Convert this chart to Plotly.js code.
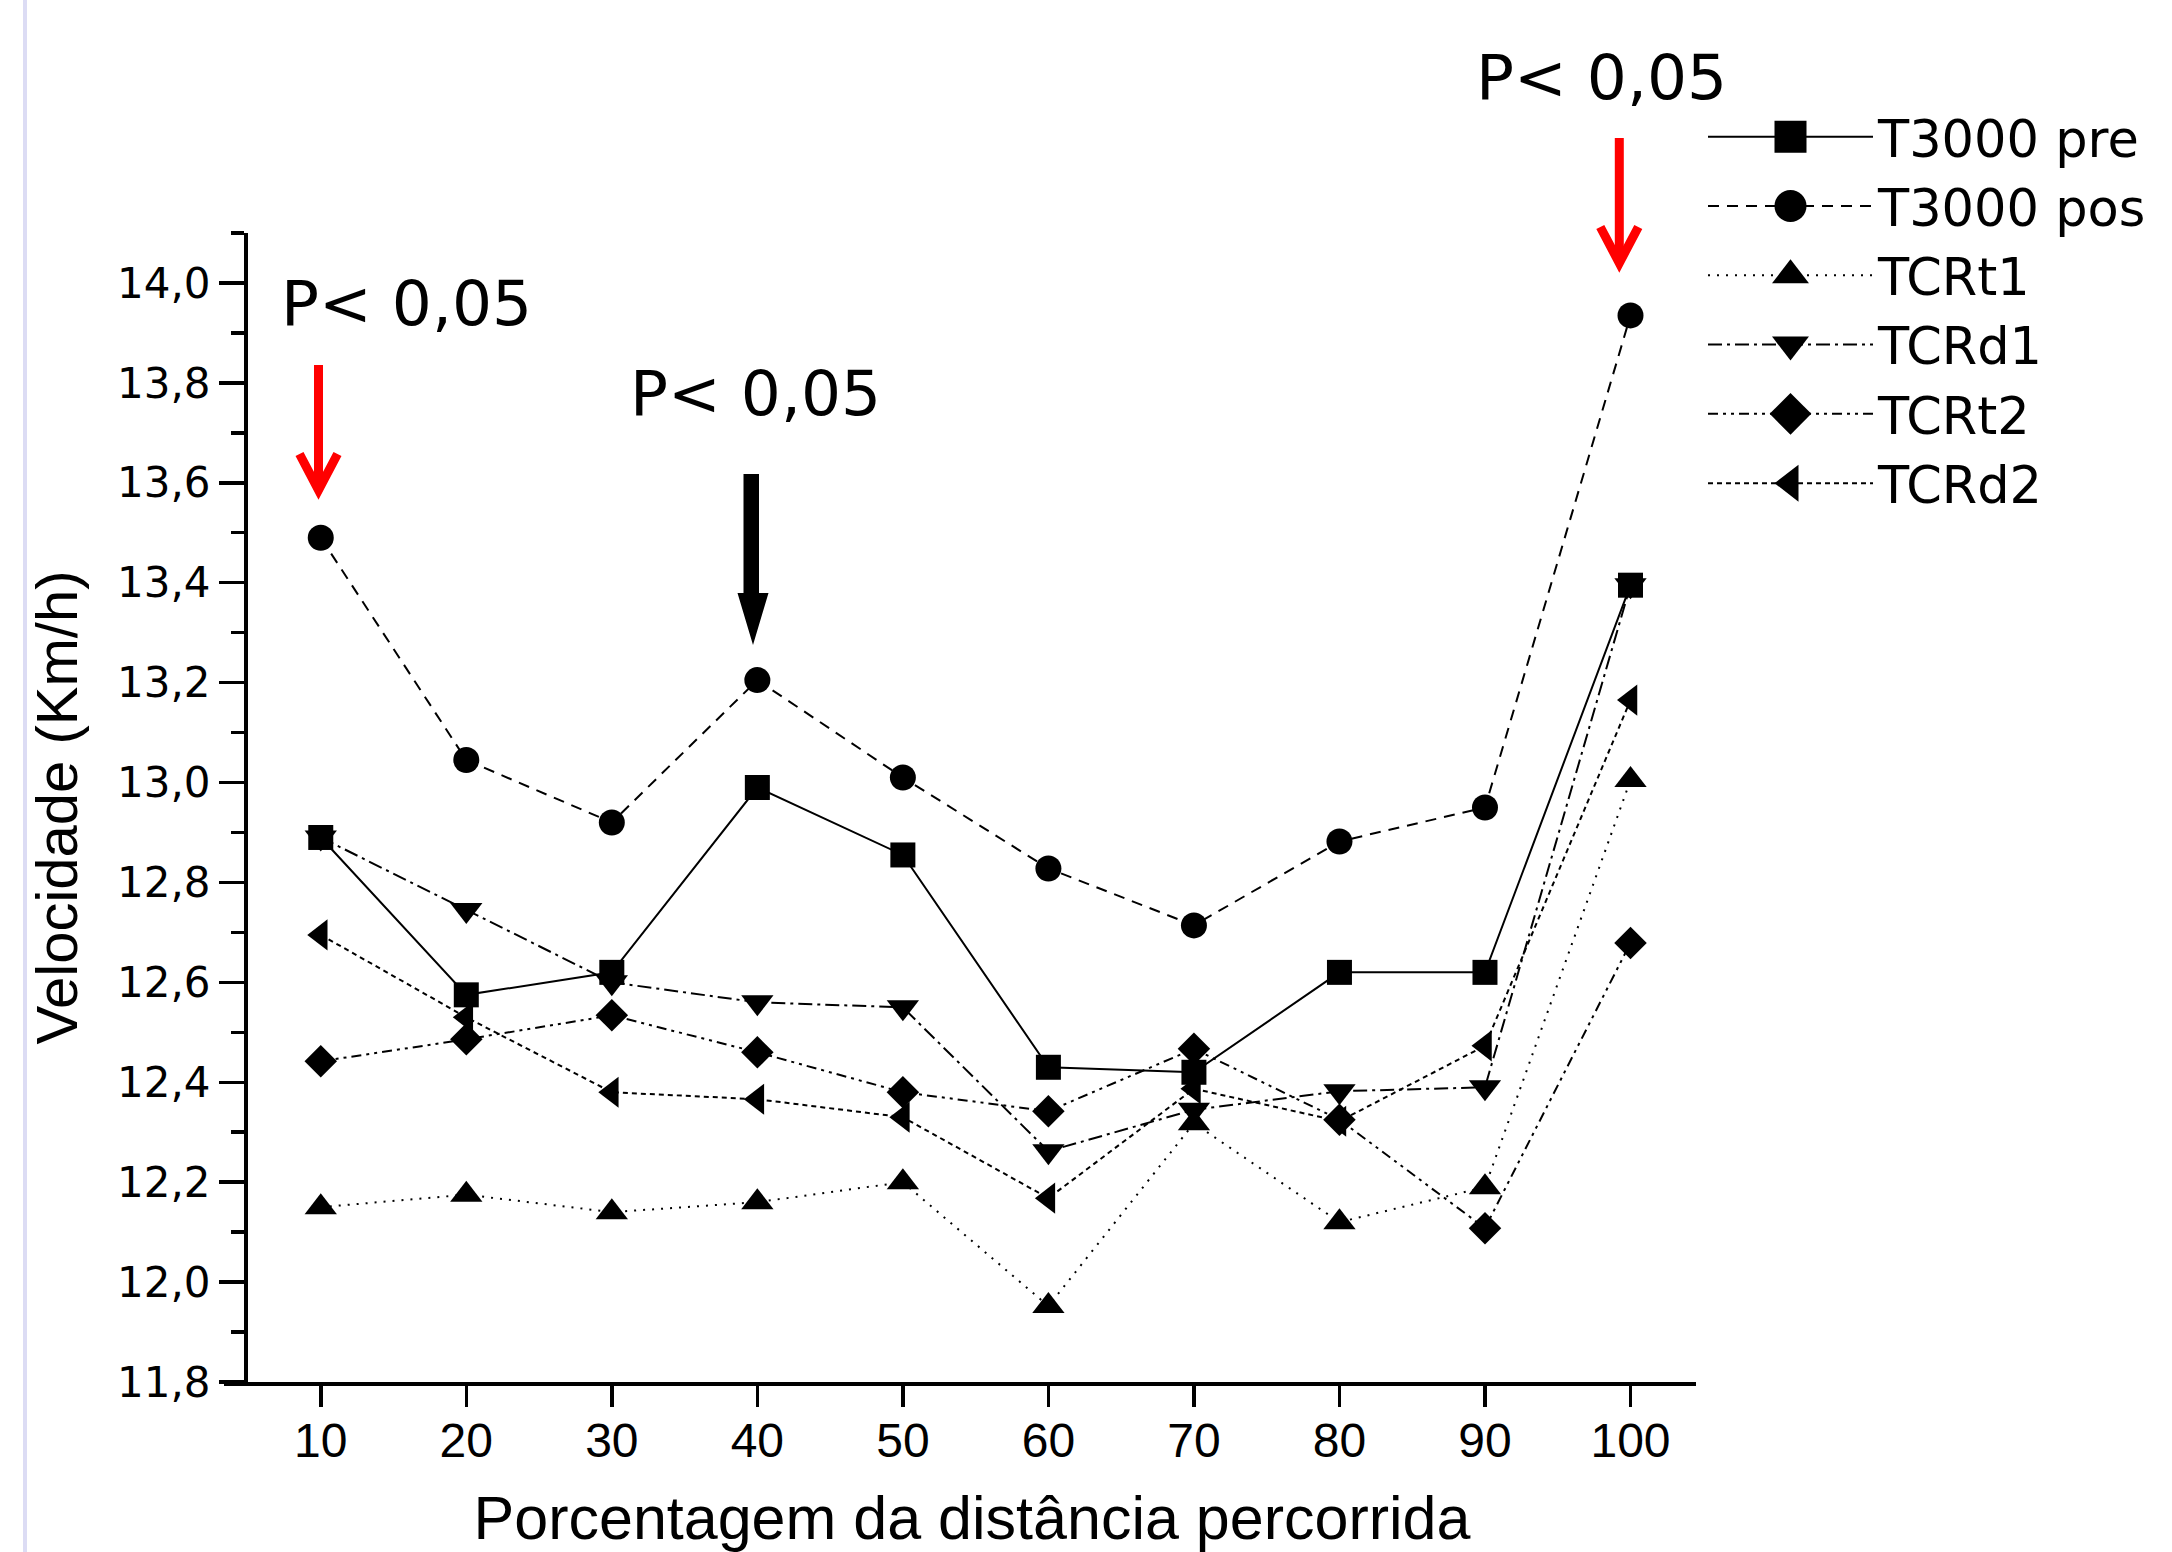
<!DOCTYPE html>
<html>
<head>
<meta charset="utf-8">
<script src="https://cdn.plot.ly/plotly-3.0.1.min.js"></script>
<style>
  html, body { margin: 0; padding: 0; background: #ffffff; }
  #chart { width: 2172px; height: 1552px; }
</style>
</head>
<body>
<div id="chart"></div>
<script>
// ---- Data ----
const distancePct = [10, 20, 30, 40, 50, 60, 70, 80, 90, 100];
const seriesNames = ["T3000 pre", "T3000 pos", "TCRt1", "TCRd1", "TCRt2", "TCRd2"];
const t3000Pre = [12.89, 12.575, 12.62, 12.99, 12.855, 12.43, 12.42, 12.62, 12.62, 13.395];
const t3000Pos = [13.49, 13.045, 12.92, 13.205, 13.01, 12.828, 12.714, 12.882, 12.95, 13.935];
const tcrT1 = [12.15, 12.175, 12.14, 12.16, 12.2, 11.952, 12.318, 12.12, 12.19, 13.005];
const tcrD1 = [12.89, 12.745, 12.6, 12.56, 12.55, 12.262, 12.345, 12.382, 12.39, 13.395];
const tcrT2 = [12.442, 12.486, 12.534, 12.46, 12.38, 12.342, 12.467, 12.325, 12.108, 12.679];
const tcrD2 = [12.695, 12.53, 12.38, 12.366, 12.33, 12.168, 12.387, 12.322, 12.473, 13.165];
const yTickVals = [11.8, 12.0, 12.2, 12.4, 12.6, 12.8, 13.0, 13.2, 13.4, 13.6, 13.8, 14.0];
const annotationText = "P< 0,05";

// ---- Layout geometry helpers (pixel -> paper) ----
const W = 2172, H = 1552;
const M = { l: 248, r: 476, t: 233, b: 170 };
const PW = W - M.l - M.r, PH = H - M.t - M.b;
const px = v => (v - M.l) / PW;
const py = v => (H - M.b - v) / PH;

const styles = [
  { dash: "solid", symbol: "square", size: 25 },
  { dash: "11px,8px", symbol: "circle", size: 26 },
  { dash: "2px,7px", symbol: "triangle-up", size: 28 },
  { dash: "14px,5px,3px,5px", symbol: "triangle-down", size: 28 },
  { dash: "10px,5px,3px,5px,3px,5px", symbol: "diamond", size: 25 },
  { dash: "5px,4px", symbol: "triangle-left", size: 27 }
];
const seriesValues = [t3000Pre, t3000Pos, tcrT1, tcrD1, tcrT2, tcrD2];

const traces = seriesValues.map((vals, i) => ({
  type: "scatter",
  mode: "lines+markers",
  name: seriesNames[i],
  x: distancePct,
  y: vals,
  line: { color: "#000000", width: 2, dash: styles[i].dash },
  marker: { color: "#000000", symbol: styles[i].symbol, size: styles[i].size, line: { width: 0 } },
  cliponaxis: false
}));

function chevron(x, yTop, yTip, half, drop) {
  return [
    { type: "line", xref: "paper", yref: "paper", x0: px(x), x1: px(x), y0: py(yTop), y1: py(yTip - 4),
      line: { color: "#ff0000", width: 9 } },
    { type: "path", xref: "paper", yref: "paper",
      path: `M ${px(x - half)},${py(yTip - drop)} L ${px(x)},${py(yTip)} L ${px(x + half)},${py(yTip - drop)}`,
      line: { color: "#ff0000", width: 9 } }
  ];
}

const shapes = [
  // faint left border line of the original figure
  { type: "line", xref: "paper", yref: "paper", x0: px(25), x1: px(25), y0: py(0), y1: py(H),
    line: { color: "#dcdcf4", width: 4 } },
  // x axis line overshoot to the left of the y axis
  { type: "line", xref: "paper", yref: "paper", x0: px(224), x1: px(250), y0: py(H - M.b + 2), y1: py(H - M.b + 2),
    line: { color: "#000000", width: 4 } },
  ...chevron(318.5, 365, 490, 19, 36),
  ...chevron(1619.3, 138, 263, 19, 36),
  // black arrow
  { type: "path", xref: "paper", yref: "paper",
    path: `M ${px(743.5)},${py(474)} L ${px(759)},${py(474)} L ${px(759)},${py(593)} L ${px(768.5)},${py(593)} ` +
          `L ${px(753)},${py(645)} L ${px(737.5)},${py(593)} L ${px(743.5)},${py(593)} Z`,
    fillcolor: "#000000", line: { width: 0 } }
];

const annFont = { family: "DejaVu Sans", size: 63, color: "#000000" };
const annotations = [
  { xref: "paper", yref: "paper", x: px(406.7), y: py(303), text: annotationText, showarrow: false,
    xanchor: "center", yanchor: "middle", font: annFont },
  { xref: "paper", yref: "paper", x: px(755), y: py(394), text: annotationText, showarrow: false,
    xanchor: "center", yanchor: "middle", font: annFont },
  { xref: "paper", yref: "paper", x: px(1601.7), y: py(77), text: annotationText, showarrow: false,
    xanchor: "center", yanchor: "middle", font: annFont }
];

const layout = {
  width: W, height: H,
  margin: M,
  paper_bgcolor: "#ffffff",
  plot_bgcolor: "#ffffff",
  separators: ",.",
  showlegend: true,
  legend: {
    x: px(1703), y: py(97), xanchor: "left", yanchor: "top",
    bgcolor: "rgba(0,0,0,0)", borderwidth: 0,
    font: { family: "DejaVu Sans", size: 51, color: "#000000" },
    itemwidth: 165,
    tracegroupgap: 0
  },
  xaxis: {
    range: [5, 104.5],
    tickmode: "array",
    tickvals: distancePct,
    ticktext: distancePct.map(String),
    showline: true, linecolor: "#000000", linewidth: 4,
    ticks: "outside", ticklen: 21, tickwidth: 3.5, tickcolor: "#000000",
    ticklabelstandoff: -8,
    showgrid: false, zeroline: false,
    tickfont: { family: "Liberation Sans", size: 48, color: "#000000" },
    title: { text: "Porcentagem da distância percorrida", standoff: 44,
             font: { family: "Liberation Sans", size: 61, color: "#000000" } }
  },
  yaxis: {
    range: [11.8, 14.1],
    tickmode: "array",
    tickvals: yTickVals,
    tickformat: ".1f",
    showline: true, linecolor: "#000000", linewidth: 4,
    ticks: "outside", ticklen: 25, tickwidth: 3.5, tickcolor: "#000000",
    minor: { ticks: "outside", ticklen: 13, tickwidth: 3.5, tickcolor: "#000000", dtick: 0.1, tick0: 11.8, showgrid: false },
    showgrid: false, zeroline: false,
    tickfont: { family: "DejaVu Sans", size: 42, color: "#000000" },
    title: { text: "Velocidade (Km/h)", standoff: 22,
             font: { family: "Liberation Sans", size: 58, color: "#000000" } }
  },
  shapes: shapes,
  annotations: annotations
};

Plotly.newPlot("chart", traces, layout, { displayModeBar: false, staticPlot: true }).then(() => {
  // enlarge legend symbols (Plotly caps legend marker size at 16px)
  document.querySelectorAll(".legend .legendpoints path.scatterpts").forEach(p => {
    const t = p.getAttribute("transform") || "";
    p.setAttribute("transform", t + " scale(2)");
  });
});
</script>
</body>
</html>
